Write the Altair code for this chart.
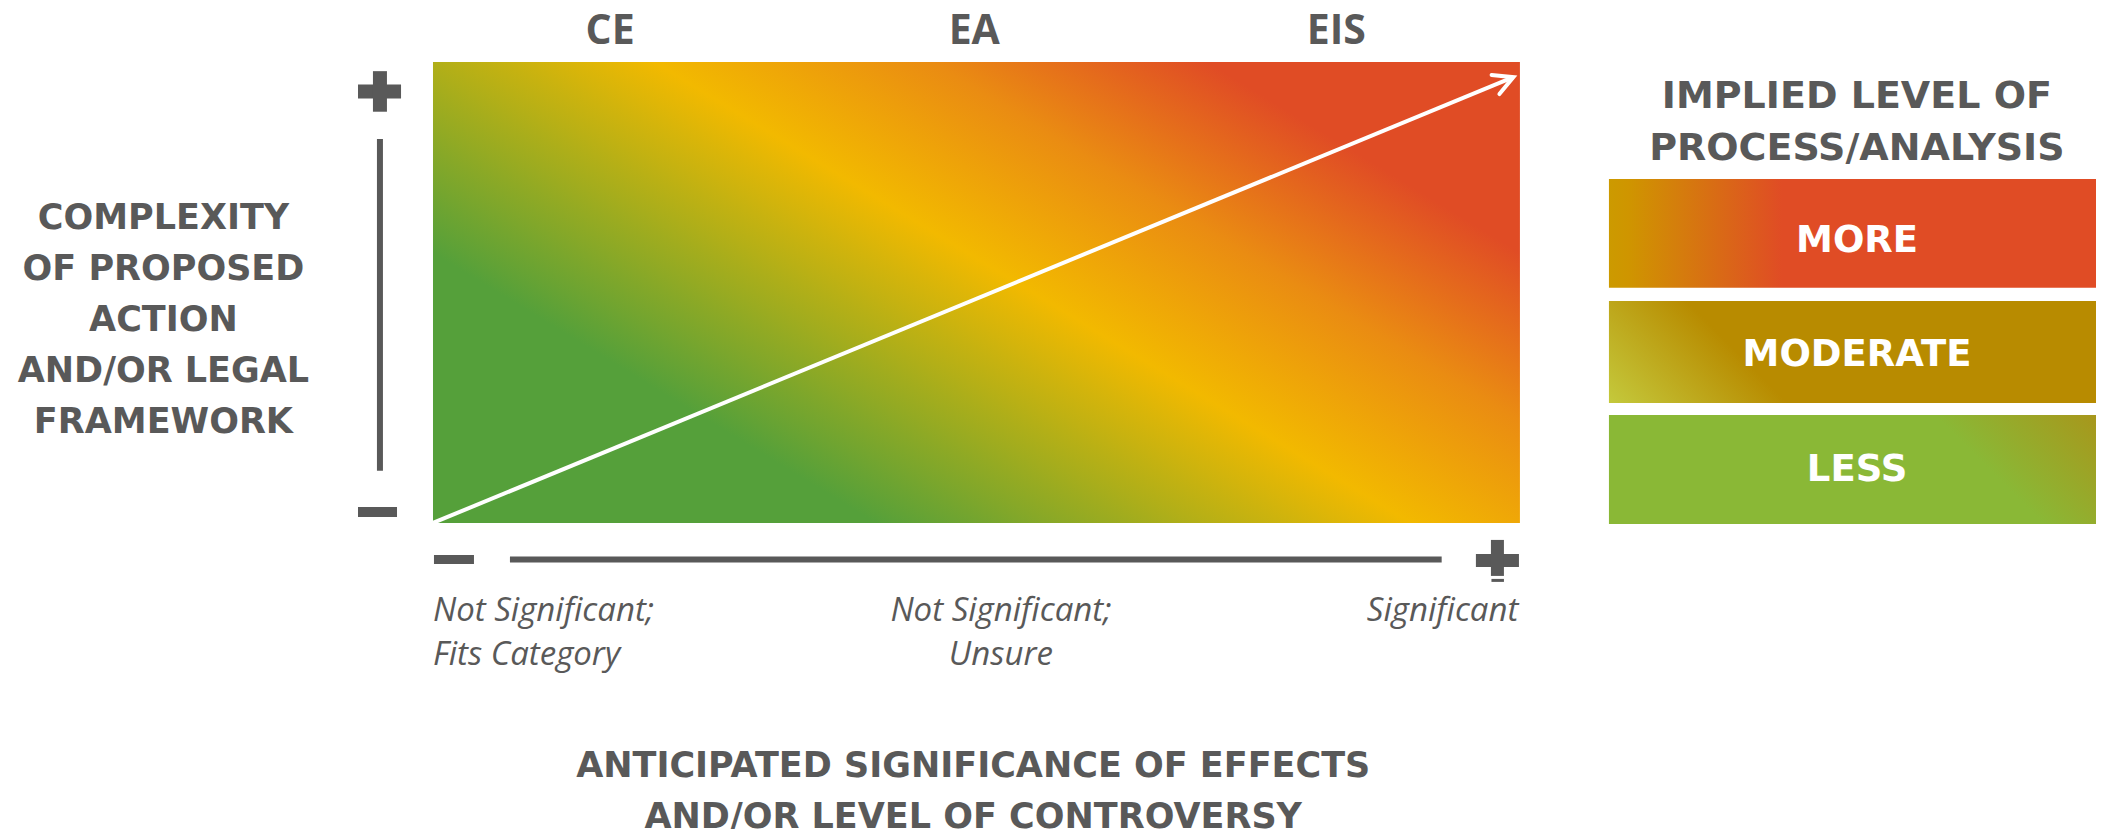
import altair as alt
import pandas as pd

# Diagram space: x = anticipated significance (field spans 0..1), y = complexity (0..1)
X_DOMAIN = [-0.391, 1.530]
Y_DOMAIN = [-0.664, 1.117]

field_x = [0.0, 1.0]
field_y = [0.0, 1.0]

arrow_from = [0.0, 0.0]
arrow_to = [0.994, 0.967]

doc_types = ["CE", "EA", "EIS"]
doc_x = [0.163, 0.498, 0.831]
doc_level = 1.039

sig_labels = ["Not Significant;\nFits Category", "Not Significant;\nUnsure", "Significant"]
sig_x = [0.0, 0.5225, 0.9986]
sig_align = ["left", "center", "right"]
sig_level = -0.2125

y_title = ["COMPLEXITY", "OF PROPOSED", "ACTION", "AND/OR LEGAL", "FRAMEWORK"]
x_title = ["ANTICIPATED SIGNIFICANCE OF EFFECTS", "AND/OR LEVEL OF CONTROVERSY"]
panel_title = ["IMPLIED LEVEL OF", "PROCESS/ANALYSIS"]

levels = ["MORE", "MODERATE", "LESS"]
level_top = [0.746, 0.4816, 0.2343]
level_bottom = [0.510, 0.2603, -0.0022]
level_label_y = [0.588, 0.3406, 0.0911]
panel_x = [1.0819, 1.537]

# axis indicator strokes (+ / - and the axis bars), in diagram units
ind_x = [-0.0488, 0.0708, -0.069, -0.0488, -0.069, 0.0009, 0.9595, 0.9793, 0.9738]
ind_x2 = [-0.0488, 0.928, -0.0294, -0.0488, -0.0331, 0.0377, 0.9991, 0.9793, 0.9853]
ind_y = [0.113, -0.0792, 0.936, 0.892, 0.0239, -0.0792, -0.0813, -0.0369, -0.1247]
ind_y2 = [0.833, -0.0792, 0.936, 0.980, 0.0239, -0.0792, -0.0813, -0.115, -0.1247]
ind_w = [6, 6, 14, 14, 10, 9, 13, 13, 3]

GREY = "#595959"
xs = alt.Scale(domain=X_DOMAIN, nice=False, zero=False)
ys = alt.Scale(domain=Y_DOMAIN, nice=False, zero=False)


def X(f):
    return alt.X(f, type="quantitative", scale=xs, axis=None)


def Y(f):
    return alt.Y(f, type="quantitative", scale=ys, axis=None)


def grad(x1, y1, x2, y2, stops):
    return alt.Gradient(
        gradient="linear", x1=x1, y1=y1, x2=x2, y2=y2,
        stops=[alt.GradientStop(offset=o, color=c) for o, c in stops],
    )


field_df = pd.DataFrame({"x": [field_x[0]], "x2": [field_x[1]], "y": [field_y[0]], "y2": [field_y[1]]})
field_layer = alt.Chart(field_df).mark_rect(
    fill=grad(0, 1, 1.143, 0.204, [
        (0.0, "#55a03a"), (0.24, "#55a03a"), (0.53, "#f2b900"),
        (0.68, "#ea8c12"), (0.83, "#e04c25"), (1.0, "#e04c25")])
).encode(x=X("x"), x2="x2", y=Y("y"), y2="y2")

arrow_df = pd.DataFrame({"x": [arrow_from[0]], "y": [arrow_from[1]], "x2": [arrow_to[0]], "y2": [arrow_to[1]]})
arrow_line = alt.Chart(arrow_df).mark_rule(color="white", strokeWidth=4).encode(
    x=X("x"), y=Y("y"), x2="x2", y2="y2")
arrow_head = alt.Chart(arrow_df).mark_point(
    shape="M -1 -0.53 L 0 0 L -1 0.53", size=1500, filled=False, color="white",
    strokeWidth=4, angle=337.6, opacity=1, strokeCap="round"
).encode(x=X("x2"), y=Y("y2"))

ind_df = pd.DataFrame({"x": ind_x, "x2": ind_x2, "y": ind_y, "y2": ind_y2, "w": ind_w})
indicators = alt.Chart(ind_df).mark_rule(color=GREY, strokeCap="butt").encode(
    x=X("x"), x2="x2", y=Y("y"), y2="y2", strokeWidth=alt.StrokeWidth("w:Q", scale=None))

doc_df = pd.DataFrame({"label": doc_types, "x": doc_x, "y": [doc_level] * len(doc_types)})
doc_layer = alt.Chart(doc_df).mark_text(
    font="Open Sans", fontWeight="bold", fontSize=41, color=GREY, baseline="alphabetic"
).encode(x=X("x"), y=Y("y"), text="label:N")

sig_layers = []
for lab, px, al in zip(sig_labels, sig_x, sig_align):
    d = pd.DataFrame({"label": [lab], "x": [px], "y": [sig_level]})
    sig_layers.append(alt.Chart(d).mark_text(
        font="Open Sans", fontStyle="italic", fontWeight="normal", fontSize=33, color=GREY,
        align=al, baseline="alphabetic", lineBreak="\n", lineHeight=44.5
    ).encode(x=X("x"), y=Y("y"), text="label:N"))

ytitle_layer = alt.Chart(pd.DataFrame({"x": [-0.248], "y": [0.6386]})).mark_text(
    text=y_title, font="DejaVu Sans", fontWeight="bold", fontSize=35, color=GREY,
    align="center", baseline="alphabetic", lineHeight=51
).encode(x=X("x"), y=Y("y"))

xtitle_layer = alt.Chart(pd.DataFrame({"x": [0.497], "y": [-0.551]})).mark_text(
    text=x_title, font="DejaVu Sans", fontWeight="bold", fontSize=35, color=GREY,
    align="center", baseline="alphabetic", lineHeight=51
).encode(x=X("x"), y=Y("y"))

ptitle_layer = alt.Chart(pd.DataFrame({"x": [1.310], "y": [0.9002]})).mark_text(
    text=panel_title, font="DejaVu Sans", fontWeight="bold", fontSize=38, color=GREY,
    align="center", baseline="alphabetic", lineHeight=52
).encode(x=X("x"), y=Y("y"))

box_fills = [
    grad(0, 0, 1, 0, [(0.0, "#cc9a00"), (0.04, "#cf9500"), (0.35, "#e04c25"), (1.0, "#e04c25")]),
    grad(0, 1, 0.346, 0.93, [(0.0, "#c4c93c"), (1.0, "#b88b00")]),
    grad(0, 1, 1.164, 0.744, [(0.0, "#8ab836"), (0.72, "#8ab836"), (1.0, "#a9951a")]),
]
box_layers = []
for lv, top, bot, fill in zip(levels, level_top, level_bottom, box_fills):
    d = pd.DataFrame({"x": [panel_x[0]], "x2": [panel_x[1]], "y": [bot], "y2": [top], "level": [lv]})
    box_layers.append(alt.Chart(d).mark_rect(fill=fill).encode(
        x=X("x"), x2="x2", y=Y("y"), y2="y2"))

lab_df = pd.DataFrame({"label": levels, "x": [(panel_x[0] + 1.5385) / 2] * 3, "y": level_label_y})
level_labels = alt.Chart(lab_df).mark_text(
    font="DejaVu Sans", fontWeight="bold", fontSize=37, color="white", baseline="alphabetic"
).encode(x=X("x"), y=Y("y"), text="label:N")

chart = alt.layer(
    field_layer, arrow_line, arrow_head, indicators, doc_layer, *sig_layers,
    ytitle_layer, xtitle_layer, ptitle_layer, *box_layers, level_labels
).properties(
    width=2088, height=821, autosize=alt.AutoSizeParams(type="none"), padding=0
).configure_view(stroke=None)

chart.save("out.html", embed_options={"renderer": "svg", "actions": False})
